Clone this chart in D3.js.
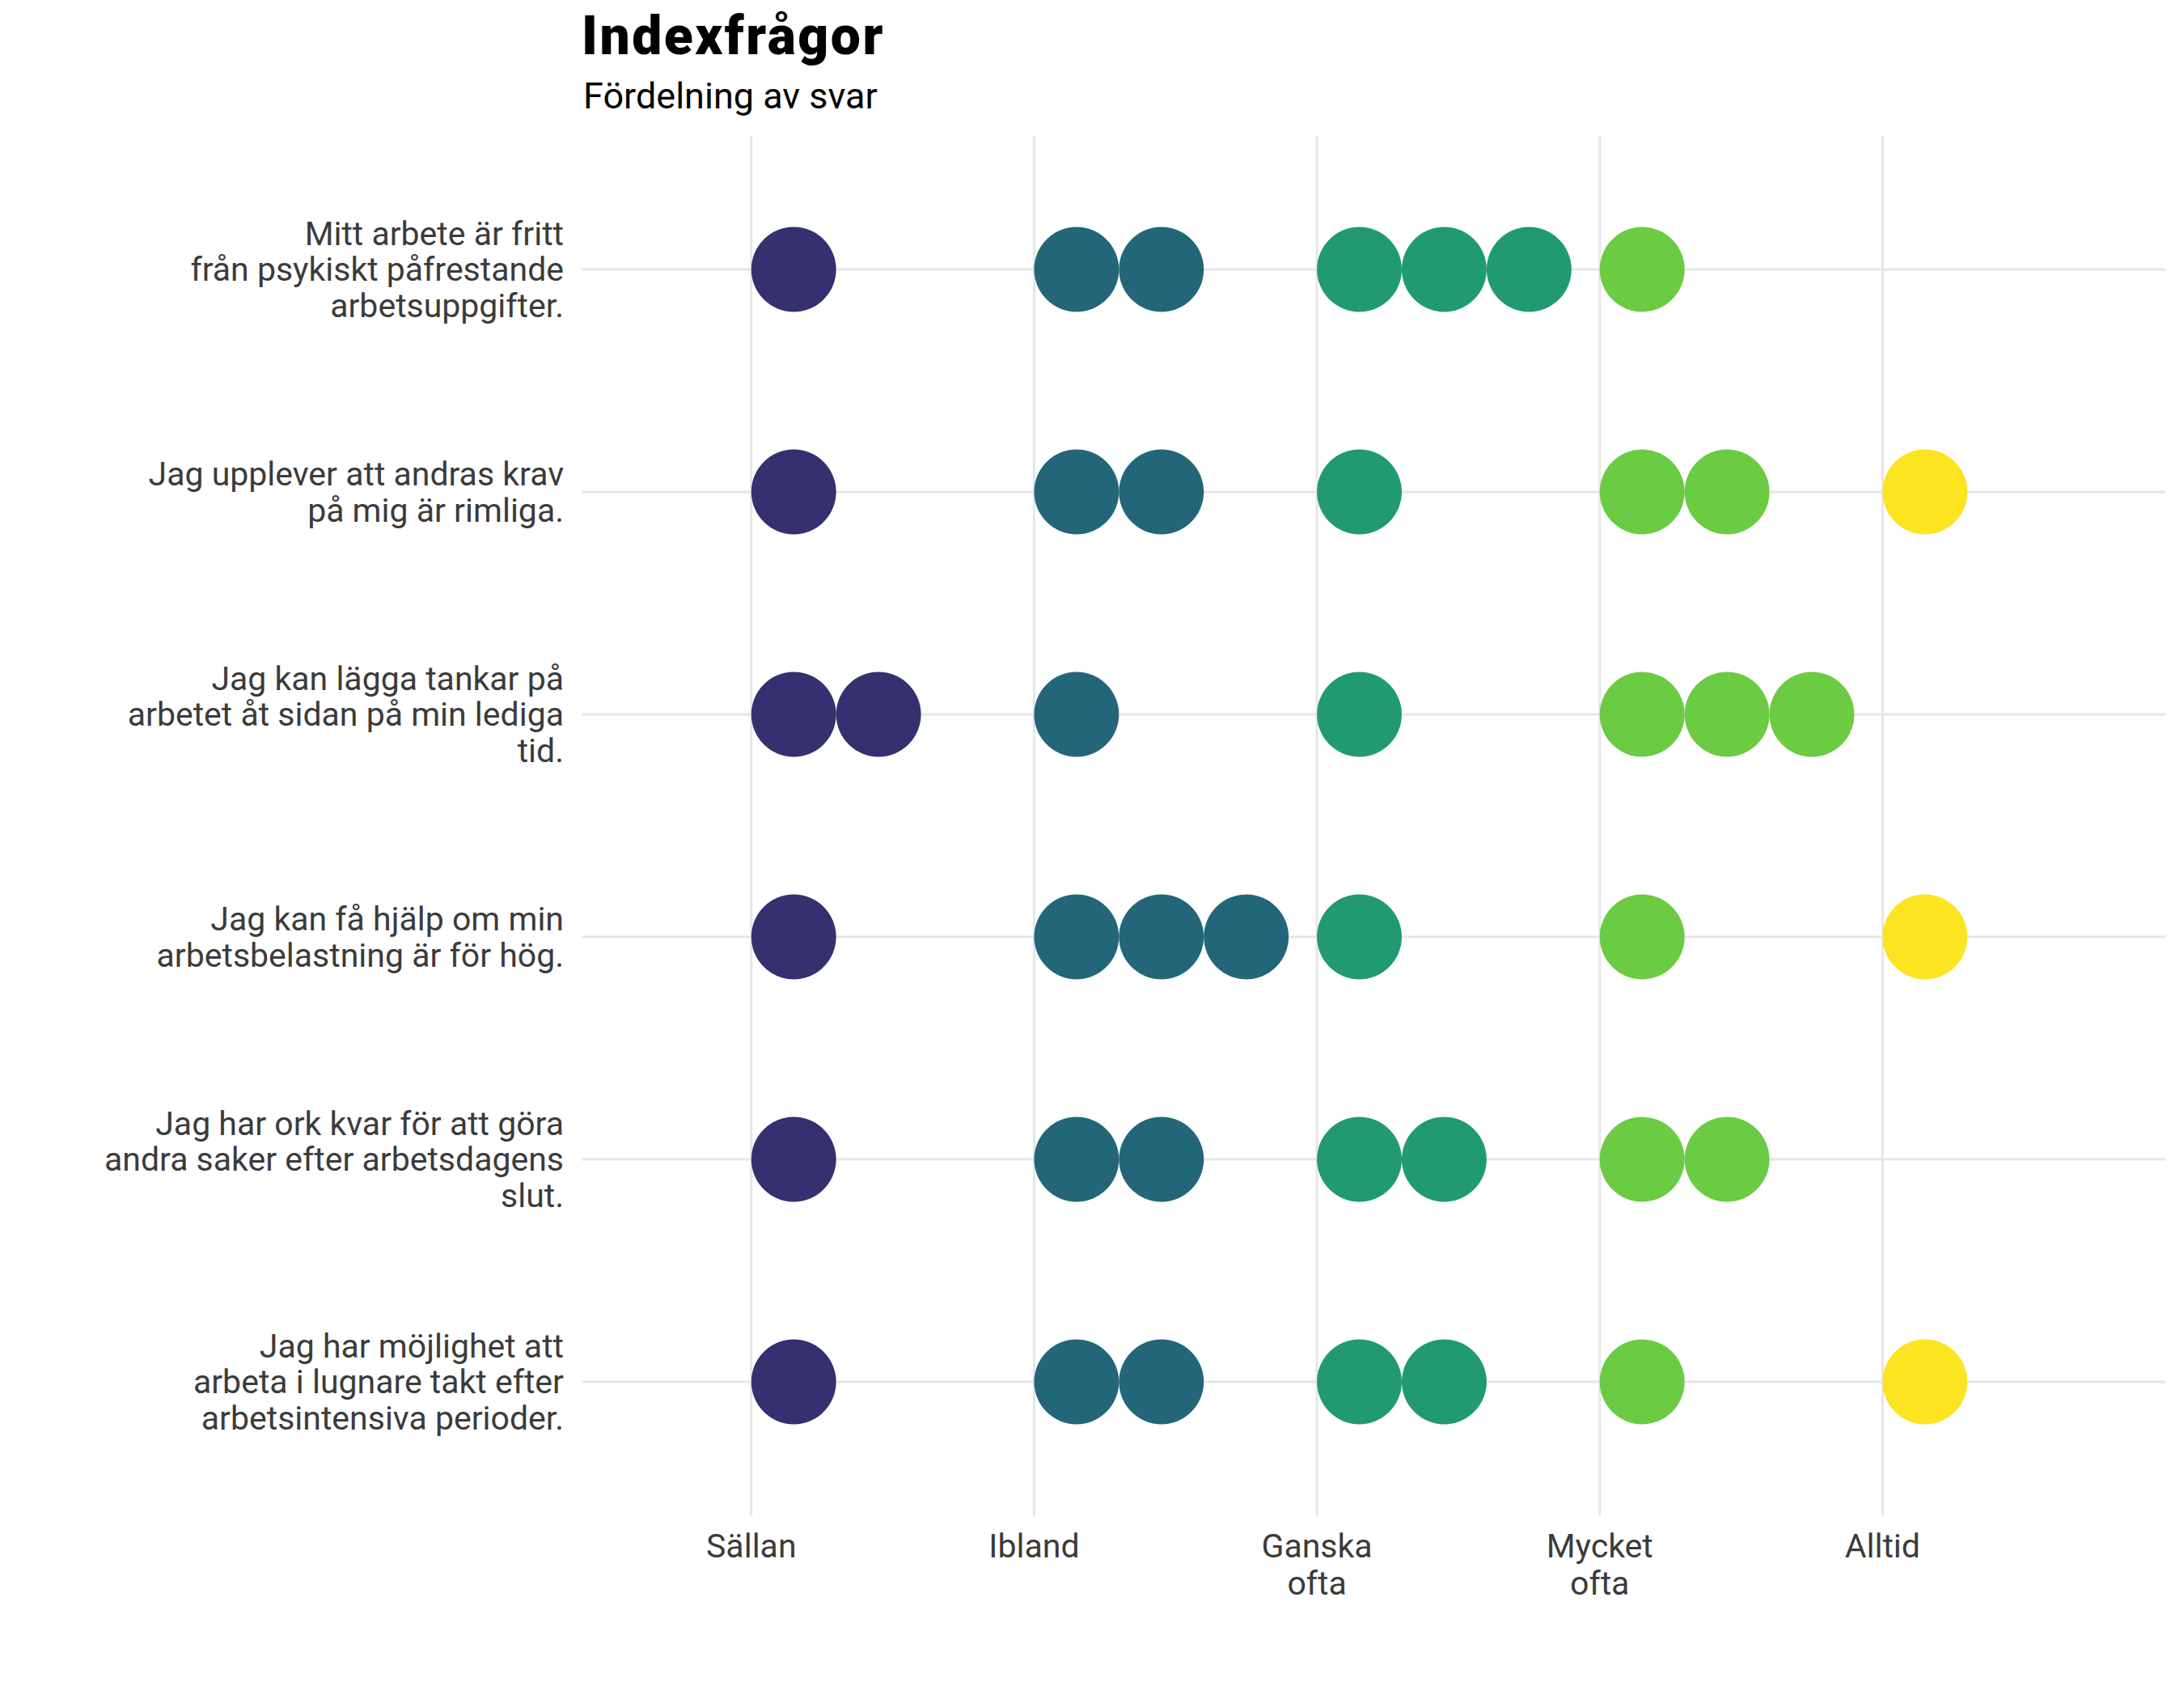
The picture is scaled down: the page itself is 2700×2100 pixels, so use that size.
<!DOCTYPE html>
<html>
<head>
<meta charset="utf-8">
<script src="https://cdn.jsdelivr.net/npm/d3@7"></script>
<style>
  html, body { margin: 0; padding: 0; background: #ffffff; }
  svg { display: block; }
</style>
</head>
<body>
<div id="chart"></div>
<script>
// ---- Data ----
const title = "Indexfrågor";
const subtitle = "Fördelning av svar";

const questions = [
  ["Mitt arbete är fritt", "från psykiskt påfrestande", "arbetsuppgifter."],
  ["Jag upplever att andras krav", "på mig är rimliga."],
  ["Jag kan lägga tankar på", "arbetet åt sidan på min lediga", "tid."],
  ["Jag kan få hjälp om min", "arbetsbelastning är för hög."],
  ["Jag har ork kvar för att göra", "andra saker efter arbetsdagens", "slut."],
  ["Jag har möjlighet att", "arbeta i lugnare takt efter", "arbetsintensiva perioder."]
];

const answerLevels = ["Sällan", "Ibland", "Ganska ofta", "Mycket ofta", "Alltid"];
const tickLabels = [["Sällan"], ["Ibland"], ["Ganska", "ofta"], ["Mycket", "ofta"], ["Alltid"]];

// number of responses per question (same order as questions)
const countSallan = [1, 1, 2, 1, 1, 1];
const countIbland = [2, 2, 1, 3, 2, 2];
const countGanska = [3, 1, 1, 1, 2, 2];
const countMycket = [1, 2, 3, 1, 2, 1];
const countAlltid = [0, 1, 0, 1, 0, 1];

const levelColors = ["#35306F", "#23667A", "#219A72", "#6BCB42", "#FCE420"];

// ---- Layout ----
const W = 2700, H = 2100;
const panel = { left: 719, right: 2677, top: 168, bottom: 1873 };

const svg = d3.select("#chart").append("svg")
  .attr("width", W).attr("height", H)
  .attr("viewBox", `0 0 ${W} ${H}`);

const x = d3.scaleLinear().domain([0.4, 6.0]).range([panel.left, panel.right]);
const y = d3.scaleLinear().domain([0.4, 6.6]).range([panel.top, panel.bottom]);
const color = d3.scaleOrdinal().domain(answerLevels).range(levelColors);

const dotStep = 0.3;
const r = (x(1 + dotStep) - x(1)) / 2;

const gridColor = "#E6E6E6";
const textColor = "#3B3B3B";
const font = "Roboto, 'Noto Sans', sans-serif";

// gridlines
const grid = svg.append("g");
grid.selectAll("line.v").data(d3.range(1, answerLevels.length + 1)).join("line")
  .attr("x1", d => x(d)).attr("x2", d => x(d))
  .attr("y1", panel.top).attr("y2", panel.bottom)
  .attr("stroke", gridColor).attr("stroke-width", 3);
grid.selectAll("line.h").data(d3.range(1, questions.length + 1)).join("line")
  .attr("x1", panel.left).attr("x2", panel.right)
  .attr("y1", d => y(d)).attr("y2", d => y(d))
  .attr("stroke", gridColor).attr("stroke-width", 3);

// build dots from counts
const allCounts = [countSallan, countIbland, countGanska, countMycket, countAlltid];
const dots = [];
questions.forEach((q, qi) => {
  answerLevels.forEach((lvl, li) => {
    const n = allCounts[li][qi];
    for (let k = 0; k < n; k++) {
      dots.push({ q: qi + 1, level: li + 1, name: lvl, k });
    }
  });
});

svg.append("g").selectAll("circle").data(dots).join("circle")
  .attr("cx", d => x(d.level + dotStep / 2 + d.k * dotStep))
  .attr("cy", d => y(d.q))
  .attr("r", r)
  .attr("fill", d => color(d.name));

// y labels
const lineH = 44.8;
const yLab = svg.append("g")
  .attr("font-family", font).attr("font-size", 41).attr("fill", textColor)
  .attr("text-anchor", "end");
questions.forEach((lines, i) => {
  const cy = y(i + 1);
  const t = yLab.append("text").attr("x", 697);
  const first = cy - (lines.length - 1) / 2 * lineH;
  lines.forEach((ln, j) => {
    t.append("tspan").attr("x", 697).attr("y", first + j * lineH)
      .attr("dy", "0.35em").text(ln);
  });
});

// x labels
const xLab = svg.append("g")
  .attr("font-family", font).attr("font-size", 41).attr("fill", textColor)
  .attr("text-anchor", "middle");
tickLabels.forEach((lines, i) => {
  const t = xLab.append("text");
  lines.forEach((ln, j) => {
    t.append("tspan").attr("x", x(i + 1)).attr("y", 1925 + j * 45.5).text(ln);
  });
});

// title & subtitle
svg.append("text").attr("x", 719).attr("y", 67)
  .attr("font-family", font).attr("font-weight", 900).attr("font-size", 66)
  .attr("letter-spacing", 2.5)
  .attr("fill", "#000").text(title);
svg.append("text").attr("x", 721).attr("y", 134)
  .attr("font-family", font).attr("font-size", 45)
  .attr("fill", "#000").text(subtitle);
</script>
</body>
</html>
